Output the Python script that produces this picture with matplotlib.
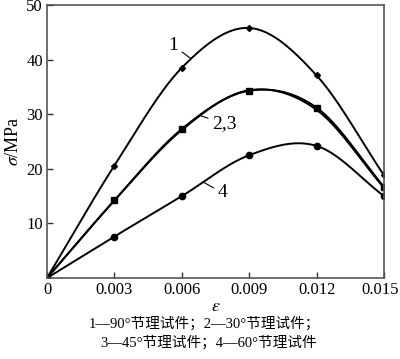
import numpy as np
import matplotlib.pyplot as plt
from matplotlib.transforms import ScaledTranslation

plt.rcParams['font.family'] = ['Liberation Serif', 'Noto Sans CJK SC']
plt.rcParams['mathtext.fontset'] = 'stix'

strain = [0, 0.003, 0.006, 0.009, 0.012, 0.015]
s1 = [0, 20.6, 38.5, 45.8, 37.1, 18.8]
s2 = [0, 14.2, 27.3, 34.3, 31.2, 16.7]
s3 = [0, 14.2, 27.1, 34.4, 30.8, 16.5]
s4 = [0, 7.6, 15.0, 22.5, 24.2, 15.0]
xticks = [0, 0.003, 0.006, 0.009, 0.012, 0.015]
xticklabels = ['0', '0.003', '0.006', '0.009', '0.012', '0.015']
yticks = [10, 20, 30, 40, 50]


# Catmull-Rom smoothing through the measured points
def smooth(x, y, n=40):
    x = np.asarray(x, float)
    y = np.asarray(y, float)
    px = np.concatenate([[2 * x[0] - x[1]], x, [2 * x[-1] - x[-2]]])
    py = np.concatenate([[2 * y[0] - y[1]], y, [2 * y[-1] - y[-2]]])
    xs, ys = [], []
    for i in range(1, len(px) - 2):
        t = np.linspace(0, 1, n)
        for p, out in ((px, xs), (py, ys)):
            p0, p1, p2, p3 = p[i - 1], p[i], p[i + 1], p[i + 2]
            out.append(0.5 * (2 * p1 + (-p0 + p2) * t
                              + (2 * p0 - 5 * p1 + 4 * p2 - p3) * t ** 2
                              + (-p0 + 3 * p1 - 3 * p2 + p3) * t ** 3))
    return np.concatenate(xs), np.concatenate(ys)


fig = plt.figure(figsize=(4, 3.59), dpi=100)
ax = fig.add_axes([0.1175, 0.2256, 0.8425, 0.7604])

for y, m, ms in ((s1, 'D', 3), (s2, 's', 5), (s3, None, 0), (s4, 'o', 4.5)):
    xs, ys = smooth(strain, y)
    ax.plot(xs, ys, color='black', lw=1.4)
    if m:
        ax.plot(strain, y, ls='none', marker=m, ms=ms, color='black')

ax.set_xlim(0, 0.015)
ax.set_ylim(0, 50)
ax.set_xticks(xticks)
ax.set_xticklabels(xticklabels)
ax.set_yticks(yticks)
ax.tick_params(direction='in', length=4, labelsize=12, width=1,
               colors='#333333', labelcolor='black', pad=3)
for sp in ax.spines.values():
    sp.set_color('#555555')
    sp.set_linewidth(1.2)

# keep the last tick label inside the canvas
last = ax.get_xticklabels()[-1]
last.set_transform(last.get_transform() + ScaledTranslation(-0.04, 0, fig.dpi_scale_trans))

ax.set_xlabel(r'$\varepsilon$', fontsize=13, labelpad=0)
ax.set_ylabel(r'$\sigma$/MPa', fontsize=13, labelpad=3)

# curve labels with leader lines
leader = dict(arrowstyle='-', lw=0.8, color='black', shrinkA=1, shrinkB=0)
ax.annotate('1', xy=(0.0064, 40.2), xytext=(0.0054, 42.6), fontsize=14,
            arrowprops=leader, va='center')
ax.annotate('2,3', xy=(0.00685, 29.7), xytext=(0.00735, 28.3), fontsize=14,
            arrowprops=leader, va='center')
ax.annotate('4', xy=(0.00694, 17.6), xytext=(0.0076, 15.6), fontsize=14,
            arrowprops=leader, va='center')

fig.text(0.512, 0.100, '1—90°节理试件；2—30°节理试件；', ha='center', va='center', fontsize=10.5)
fig.text(0.522, 0.045, '3—45°节理试件；4—60°节理试件', ha='center', va='center', fontsize=10.5)

fig.savefig('out.png', dpi=100)
